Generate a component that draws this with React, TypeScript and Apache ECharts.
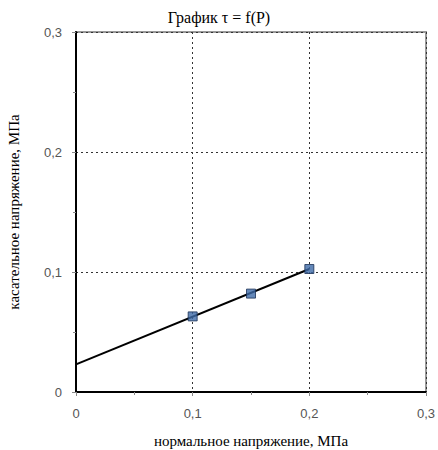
import React, { useEffect, useRef } from "react";
import * as echarts from "echarts";

const titleText = "График τ = f(P)";
const xAxisName = "нормальное напряжение, МПа";
const yAxisName = "касательное напряжение, МПа";
const pointsX = [0.1, 0.15, 0.2];
const pointsY = [0.063, 0.082, 0.1025];
const trendX = [0, 0.2];
const trendY = [0.023, 0.1025];

const fmt = (v: number) => (v === 0 ? "0" : String(Math.round(v * 10) / 10).replace(".", ","));

export default function App() {
  const ref = useRef<HTMLDivElement>(null);
  useEffect(() => {
    const chart = echarts.init(ref.current!, null, { renderer: "svg" });
    const axisCommon = {
      type: "value" as const,
      min: 0,
      max: 0.3,
      interval: 0.1,
      axisLine: { show: true, onZero: false, lineStyle: { color: "#000", width: 2 } },
      axisTick: { show: true, length: 4, lineStyle: { color: "#888" } },
      minorTick: { show: true, splitNumber: 2, length: 3, lineStyle: { color: "#888" } },
      splitLine: { show: true, lineStyle: { color: "#333", type: [2, 3] as any, width: 1 } },
      axisLabel: {
        formatter: fmt,
        color: "#555",
        fontFamily: "Liberation Sans",
        fontSize: 13,
      },
      nameLocation: "middle" as const,
      nameTextStyle: { fontFamily: "Liberation Serif", fontSize: 15, color: "#000" },
    };
    chart.setOption({
      animation: false,
      backgroundColor: "#fff",
      title: {
        text: titleText,
        left: "center",
        top: 4,
        textStyle: { fontFamily: "Liberation Serif", fontSize: 16, fontWeight: "normal", color: "#000" },
      },
      grid: {
        left: 76,
        top: 32,
        right: 12,
        bottom: 58,
        show: true,
        borderColor: "#999",
        borderWidth: 2,
        backgroundColor: "#fff",
        containLabel: false,
        outerBoundsMode: "none",
      },
      xAxis: {
        ...axisCommon,
        name: xAxisName,
        nameGap: 41,
        axisLabel: { ...axisCommon.axisLabel, margin: 15 },
      },
      yAxis: {
        ...axisCommon,
        name: yAxisName,
        nameGap: 55,
        axisLabel: { ...axisCommon.axisLabel, margin: 14 },
      },
      series: [
        {
          type: "line",
          data: trendX.map((x, i) => [x, trendY[i]]),
          showSymbol: false,
          symbol: "none",
          lineStyle: { color: "#000", width: 2 },
          z: 3,
        },
        {
          type: "scatter",
          data: pointsX.map((x, i) => [x, pointsY[i]]),
          symbol: "rect",
          symbolSize: 9,
          itemStyle: { color: "#3d6aa8", borderColor: "#1a2f55", borderWidth: 1 },
          z: 4,
        },
      ],
    });
    return () => chart.dispose();
  }, []);
  return <div ref={ref} style={{ width: 438, height: 450, position: "absolute", left: 0, top: 0 }} />;
}
